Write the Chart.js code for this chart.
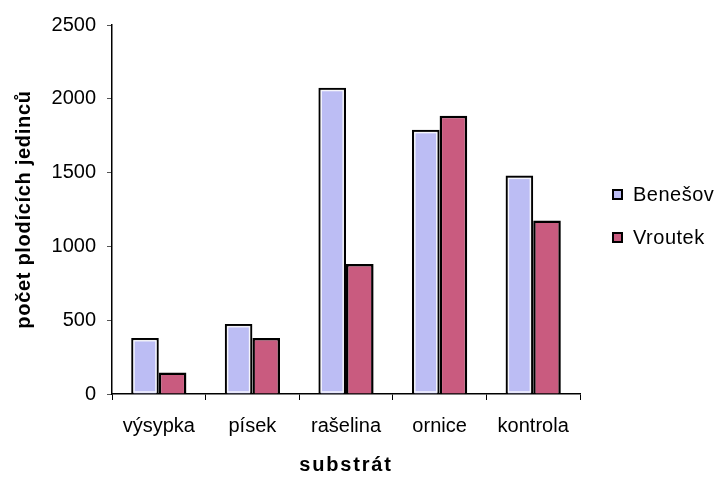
<!DOCTYPE html>
<html lang="cs">
<head>
<meta charset="utf-8">
<title>počet plodících jedinců podle substrátu</title>
<script src="https://cdn.jsdelivr.net/npm/chart.js@4/dist/chart.umd.min.js"></script>
<style>
  html, body { margin: 0; padding: 0; background: #fff; }
  #wrap { position: relative; width: 719px; height: 477px; }
  #legend {
    position: absolute; left: 612px; top: 181px;
    font-family: "Liberation Sans", Arial, sans-serif; font-size: 20px;
    letter-spacing: 0.5px; color: #000;
  }
  #legend .item { display: flex; align-items: center; height: 26px; margin-bottom: 17px; }
  #legend .box {
    box-sizing: border-box; width: 11px; height: 11px; border: 2px solid #000;
    margin-right: 10px; flex: none;
  }
</style>
</head>
<body>
<div id="wrap">
  <canvas id="chart" width="719" height="477"></canvas>
  <div id="legend"></div>
</div>
<script>
// substrate categories
const categories = ["výsypka", "písek", "rašelina", "ornice", "kontrola"];
// number of fruiting individuals per locality
const benesov = [380, 475, 2075, 1790, 1480];
const vroutek = [145, 380, 880, 1885, 1175];
const seriesNames = ["Benešov", "Vroutek"];
const yTicks = [0, 500, 1000, 1500, 2000, 2500];

const FONT = '"Liberation Sans", Arial, sans-serif';
const fills = ["#bcbdf4", "#c95b7f"];

// letter-spaced axis titles
const titleTracking = { x: '1.8px', y: '0.7px' };
const tracking = {
  id: 'tracking',
  afterLayout(chart) {
    Object.keys(titleTracking).forEach(id => {
      const s = chart.scales[id];
      if (!s || s._tracked) return;
      const orig = s.drawTitle;
      s.drawTitle = function (...args) {
        const c = this.ctx, prev = c.letterSpacing;
        c.letterSpacing = titleTracking[id];
        orig.apply(this, args);
        c.letterSpacing = prev;
      };
      s._tracked = true;
    });
  }
};

// thin white rim just inside the light bars
const innerRim = {
  id: 'innerRim',
  afterDatasetsDraw(chart) {
    const ctx = chart.ctx;
    const meta = chart.getDatasetMeta(0);
    ctx.save();
    ctx.strokeStyle = 'rgba(255,255,255,0.85)';
    ctx.lineWidth = 1.5;
    meta.data.forEach(bar => {
      const p = bar.getProps(['x', 'y', 'width', 'base'], true);
      const l = p.x - p.width / 2 + 2.8, r = p.x + p.width / 2 - 2.8;
      const t = p.y + 2.8, b = p.base - 1.5;
      ctx.strokeRect(l, t, r - l, b - t);
    });
    ctx.restore();
  }
};

const chart = new Chart(document.getElementById('chart'), {
  type: 'bar',
  data: {
    labels: categories,
    datasets: [
      { label: seriesNames[0], data: benesov, backgroundColor: fills[0], borderColor: '#000', borderWidth: 2.5 },
      { label: seriesNames[1], data: vroutek, backgroundColor: fills[1], borderColor: '#000', borderWidth: 2.5 }
    ]
  },
  options: {
    responsive: false,
    animation: false,
    devicePixelRatio: 1,
    datasets: { bar: { categoryPercentage: 0.59, barPercentage: 1.0, borderSkipped: 'start' } },
    layout: { padding: { top: 25, right: 139, bottom: 0, left: 0 } },
    plugins: { legend: { display: false }, tooltip: { enabled: false } },
    scales: {
      x: {
        offset: true,
        grid: { display: true, offset: true, drawOnChartArea: false, drawTicks: true, tickLength: 6, color: '#000', lineWidth: 1 },
        border: { display: true, color: '#000', width: 1.5 },
        ticks: { color: '#000', font: { family: FONT, size: 20 }, padding: 14, maxRotation: 0 },
        title: { display: true, text: 'substrát', color: '#000', font: { family: FONT, size: 20, weight: 'bold' }, padding: { top: 0, bottom: 0 } },
        afterFit(s) { s.height = 83; }
      },
      y: {
        min: yTicks[0], max: yTicks[yTicks.length - 1],
        afterBuildTicks(s) { s.ticks = yTicks.map(v => ({ value: v })); },
        grid: { display: true, drawOnChartArea: false, drawTicks: true, tickLength: 5, color: '#555', lineWidth: 1 },
        border: { display: true, color: '#000', width: 1.5 },
        ticks: { color: '#000', font: { family: FONT, size: 20 }, padding: 11, callback: v => String(v) },
        title: { display: true, text: 'počet plodících jedinců', color: '#000', font: { family: FONT, size: 20, weight: 'bold' }, padding: { top: 12, bottom: 0 } },
        afterFit(s) { s.width = 112; }
      }
    }
  },
  plugins: [tracking, innerRim]
});

// legend built from the datasets
const legendEl = document.getElementById('legend');
chart.data.datasets.forEach(ds => {
  const item = document.createElement('div');
  item.className = 'item';
  const box = document.createElement('span');
  box.className = 'box';
  box.style.background = ds.backgroundColor;
  const txt = document.createElement('span');
  txt.textContent = ds.label;
  item.appendChild(box);
  item.appendChild(txt);
  legendEl.appendChild(item);
});
</script>
</body>
</html>
